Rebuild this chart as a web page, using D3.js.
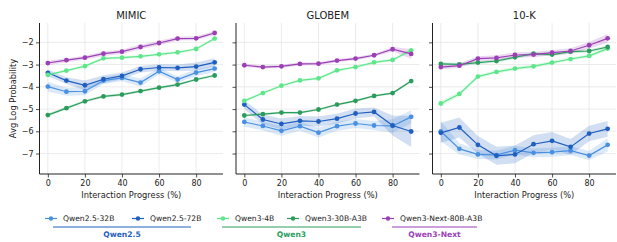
<!DOCTYPE html>
<html>
<head>
<meta charset="utf-8">
<script src="https://cdn.jsdelivr.net/npm/d3@7"></script>
<style>
  body { margin: 0; background: #fff; }
  svg { font-family: "DejaVu Sans", sans-serif; }
</style>
</head>
<body>
<svg id="chart" width="617" height="242"></svg>
<script>
// x values (interaction progress, %)
var progress = [0, 10, 20, 30, 40, 50, 60, 70, 80, 90];
var xTicks = [0, 20, 40, 60, 80];
var yTicks = [-2, -3, -4, -5, -6, -7];
var panelTitles = ["MIMIC", "GLOBEM", "10-K"];

var modelNames = ["Qwen2.5-32B", "Qwen2.5-72B", "Qwen3-4B", "Qwen3-30B-A3B", "Qwen3-Next-80B-A3B"];
var modelColors = ["#4a90e2", "#1f5fbf", "#5ee68a", "#2a9d5c", "#9b3fb5"];
var groupNames = ["Qwen2.5", "Qwen3", "Qwen3-Next"];
var groupColors = ["#1f5fbf", "#2a9d5c", "#9b3fb5"];

// MIMIC means
var mimic32 = [-3.99, -4.22, -4.20, -3.72, -3.60, -3.81, -3.30, -3.67, -3.36, -3.18];
var mimic72 = [-3.37, -3.72, -3.93, -3.66, -3.51, -3.21, -3.13, -3.15, -3.09, -2.90];
var mimic4 = [-3.46, -3.27, -3.07, -2.72, -2.69, -2.63, -2.54, -2.45, -2.30, -1.83];
var mimic30 = [-5.27, -4.96, -4.65, -4.43, -4.35, -4.19, -4.04, -3.90, -3.67, -3.49];
var mimicNext = [-2.93, -2.80, -2.69, -2.51, -2.42, -2.21, -2.03, -1.83, -1.82, -1.58];
// MIMIC band half widths
var mimic32Ci = [0.22, 0.18, 0.18, 0.15, 0.15, 0.18, 0.15, 0.15, 0.15, 0.15];
var mimic72Ci = [0.15, 0.15, 0.22, 0.18, 0.15, 0.15, 0.15, 0.15, 0.18, 0.18];
var mimic4Ci = [0.07, 0.06, 0.06, 0.06, 0.06, 0.06, 0.06, 0.06, 0.06, 0.07];
var mimic30Ci = [0.07, 0.06, 0.06, 0.06, 0.06, 0.06, 0.06, 0.06, 0.06, 0.06];
var mimicNextCi = [0.1, 0.09, 0.09, 0.1, 0.1, 0.1, 0.1, 0.09, 0.09, 0.09];

// GLOBEM means
var globem32 = [-5.58, -5.76, -5.98, -5.77, -6.06, -5.77, -5.65, -5.74, -5.76, -5.35];
var globem72 = [-4.80, -5.47, -5.67, -5.53, -5.56, -5.43, -5.20, -5.13, -5.74, -6.01];
var globem4 = [-4.63, -4.28, -3.95, -3.71, -3.62, -3.26, -3.11, -2.90, -2.79, -2.36];
var globem30 = [-5.29, -5.23, -5.16, -5.16, -5.02, -4.80, -4.63, -4.41, -4.28, -3.74];
var globemNext = [-3.03, -3.11, -3.08, -2.97, -2.96, -2.82, -2.73, -2.58, -2.31, -2.52];
var globem32Ci = [0.2, 0.2, 0.22, 0.2, 0.22, 0.2, 0.2, 0.2, 0.3, 0.3];
var globem72Ci = [0.2, 0.22, 0.25, 0.22, 0.22, 0.22, 0.22, 0.2, 0.45, 0.7];
var globem4Ci = [0.07, 0.06, 0.06, 0.06, 0.06, 0.06, 0.06, 0.06, 0.06, 0.08];
var globem30Ci = [0.06, 0.05, 0.05, 0.05, 0.05, 0.05, 0.05, 0.05, 0.05, 0.06];
var globemNextCi = [0.07, 0.07, 0.07, 0.07, 0.07, 0.07, 0.07, 0.07, 0.1, 0.22];

// 10-K means
var tenk32 = [-6.00, -6.79, -7.04, -7.07, -6.85, -6.97, -6.94, -6.87, -7.09, -6.61];
var tenk72 = [-6.07, -5.83, -6.61, -7.10, -7.04, -6.58, -6.43, -6.70, -6.10, -5.89];
var tenk4 = [-4.75, -4.32, -3.54, -3.33, -3.18, -3.08, -2.91, -2.75, -2.61, -2.28];
var tenk30 = [-2.97, -2.99, -2.91, -2.84, -2.67, -2.51, -2.55, -2.42, -2.39, -2.21];
var tenkNext = [-3.11, -3.05, -2.73, -2.70, -2.57, -2.55, -2.46, -2.39, -2.13, -1.82];
var tenk32Ci = [0.45, 0.25, 0.2, 0.2, 0.2, 0.2, 0.2, 0.2, 0.2, 0.3];
var tenk72Ci = [0.45, 0.45, 0.4, 0.4, 0.4, 0.4, 0.4, 0.35, 0.35, 0.35];
var tenk4Ci = [0.12, 0.1, 0.08, 0.08, 0.08, 0.08, 0.08, 0.08, 0.08, 0.08];
var tenk30Ci = [0.07, 0.07, 0.07, 0.07, 0.07, 0.07, 0.07, 0.07, 0.07, 0.07];
var tenkNextCi = [0.1, 0.1, 0.1, 0.12, 0.12, 0.12, 0.12, 0.12, 0.15, 0.2];

var panels = [
    { means: [mimic32, mimic72, mimic4, mimic30, mimicNext],
      cis: [mimic32Ci, mimic72Ci, mimic4Ci, mimic30Ci, mimicNextCi] },
    { means: [globem32, globem72, globem4, globem30, globemNext],
      cis: [globem32Ci, globem72Ci, globem4Ci, globem30Ci, globemNextCi] },
    { means: [tenk32, tenk72, tenk4, tenk30, tenkNext],
      cis: [tenk32Ci, tenk72Ci, tenk4Ci, tenk30Ci, tenkNextCi] }
];

var svg = d3.select("#chart");
var panelLeft = [39.5, 236, 432.5];
var panelW = 183.5;
var plotTop = 23, plotBottom = 174;

var y = d3.scaleLinear().domain([-7.92, -1.13]).range([plotBottom, plotTop]);

panels.forEach(function(p, pi) {
    var x0 = panelLeft[pi];
    var x = d3.scaleLinear().domain([-4.5, 94.5]).range([x0, x0 + panelW]);
    var g = svg.append("g");

    // grid
    g.selectAll(".gy").data(yTicks).enter().append("line")
        .attr("x1", x0).attr("x2", x0 + panelW)
        .attr("y1", function(d) { return y(d); })
        .attr("y2", function(d) { return y(d); })
        .attr("stroke", "#e6e6e6").attr("stroke-width", 0.8);
    g.selectAll(".gx").data(xTicks).enter().append("line")
        .attr("x1", function(d) { return x(d); })
        .attr("x2", function(d) { return x(d); })
        .attr("y1", plotTop).attr("y2", plotBottom)
        .attr("stroke", "#e6e6e6").attr("stroke-width", 0.8);

    // bands
    var area = d3.area()
        .x(function(d, i) { return x(progress[i]); })
        .y0(function(d) { return y(d[0] - d[1]); })
        .y1(function(d) { return y(d[0] + d[1]); });
    p.means.forEach(function(m, si) {
        var pts = m.map(function(v, i) { return [v, p.cis[si][i]]; });
        g.append("path")
            .attr("d", area(pts))
            .attr("fill", modelColors[si])
            .attr("fill-opacity", 0.2);
    });

    // lines and markers
    var line = d3.line()
        .x(function(d, i) { return x(progress[i]); })
        .y(function(d) { return y(d); });
    p.means.forEach(function(m, si) {
        g.append("path")
            .attr("d", line(m))
            .attr("fill", "none")
            .attr("stroke", modelColors[si])
            .attr("stroke-width", 1.2);
        g.selectAll(".dot" + si).data(m).enter().append("circle")
            .attr("cx", function(d, i) { return x(progress[i]); })
            .attr("cy", function(d) { return y(d); })
            .attr("r", 2.4)
            .attr("fill", modelColors[si]);
    });

    // axes
    var xAxis = d3.axisBottom(x).tickValues(xTicks).tickSize(3.5).tickPadding(2.5);
    var gx = g.append("g").attr("transform", "translate(0," + plotBottom + ")").call(xAxis);
    var yAxis = d3.axisLeft(y).tickValues(yTicks).tickSize(3.5).tickPadding(2.5)
        .tickFormat(function(d) { return pi === 0 ? "\u2212" + Math.abs(d) : ""; });
    var gy = g.append("g").attr("transform", "translate(" + x0 + ",0)").call(yAxis);
    [gx, gy].forEach(function(a) {
        a.select(".domain").attr("stroke", "#222").attr("stroke-width", 1);
        a.selectAll(".tick line").attr("stroke", "#222").attr("stroke-width", 0.8);
        a.selectAll("text").attr("fill", "#222").attr("font-size", 8)
            .attr("font-family", "DejaVu Sans");
    });
    gx.select(".domain").attr("d", "M" + x0 + ",0H" + (x0 + panelW));
    gy.select(".domain").attr("d", "M0," + plotTop + "V" + plotBottom);

    g.append("text")
        .attr("x", x0 + panelW / 2).attr("y", 18.5)
        .attr("text-anchor", "middle").attr("font-size", 10).attr("fill", "#222")
        .text(panelTitles[pi]);
    g.append("text")
        .attr("x", x0 + panelW / 2).attr("y", 197.5)
        .attr("text-anchor", "middle").attr("font-size", 8.3).attr("fill", "#222")
        .text("Interaction Progress (%)");
});

svg.append("text")
    .attr("transform", "translate(16," + (plotTop + plotBottom) / 2 + ") rotate(-90)")
    .attr("text-anchor", "middle").attr("font-size", 8.3).attr("fill", "#222")
    .text("Avg Log Probability");

// legend
var legendX = [51, 138, 223, 293, 388];
var legendY = 218.5;
var lg = svg.append("g");
modelNames.forEach(function(name, i) {
    lg.append("line")
        .attr("x1", legendX[i] - 6).attr("x2", legendX[i] + 6)
        .attr("y1", legendY).attr("y2", legendY)
        .attr("stroke", modelColors[i]).attr("stroke-width", 1.2);
    lg.append("circle").attr("cx", legendX[i]).attr("cy", legendY).attr("r", 2.2)
        .attr("fill", modelColors[i]);
    lg.append("text").attr("x", legendX[i] + 12).attr("y", legendY + 2.7)
        .attr("font-size", 7.6).attr("fill", "#222").text(name);
});
var groupSpan = [[53, 191], [222, 361], [392, 477]];
groupNames.forEach(function(name, i) {
    lg.append("line")
        .attr("x1", groupSpan[i][0]).attr("x2", groupSpan[i][1])
        .attr("y1", 227).attr("y2", 227)
        .attr("stroke", groupColors[i]).attr("stroke-width", 1);
    lg.append("text")
        .attr("x", (groupSpan[i][0] + groupSpan[i][1]) / 2).attr("y", 237)
        .attr("text-anchor", "middle").attr("font-size", 7.6).attr("font-weight", "bold")
        .attr("fill", groupColors[i]).text(name);
});
</script>
</body>
</html>
